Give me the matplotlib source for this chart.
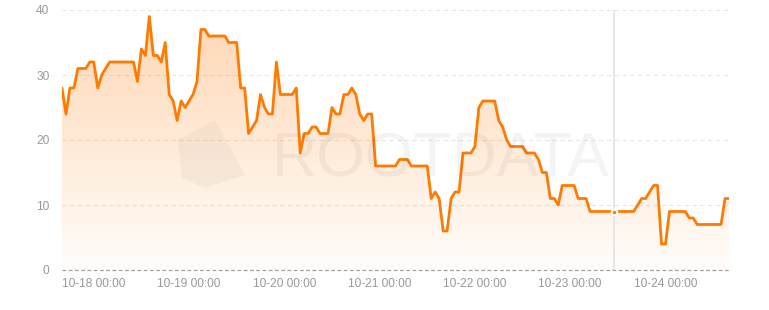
import numpy as np
import matplotlib
matplotlib.use("Agg")
import matplotlib.pyplot as plt
from matplotlib.colors import LinearSegmentedColormap
from matplotlib.patches import Polygon

# Hourly values starting at 10-18 00:00
values = [
    28, 24, 28, 28, 31, 31, 31, 32, 32, 28, 30, 31, 32, 32, 32, 32, 32, 32, 32, 29,
    34, 33, 39, 33, 33, 32, 35, 27, 26, 23, 26, 25, 26, 27, 29, 37, 37, 36, 36, 36,
    36, 36, 35, 35, 35, 28, 28, 21, 22, 23, 27, 25, 24, 24, 32, 27, 27, 27, 27, 28,
    18, 21, 21, 22, 22, 21, 21, 21, 25, 24, 24, 27, 27, 28, 27, 24, 23, 24, 24, 16,
    16, 16, 16, 16, 16, 17, 17, 17, 16, 16, 16, 16, 16, 11, 12, 11, 6, 6, 11, 12,
    12, 18, 18, 18, 19, 25, 26, 26, 26, 26, 23, 22, 20, 19, 19, 19, 19, 18, 18, 18,
    17, 15, 15, 11, 11, 10, 13, 13, 13, 13, 11, 11, 11, 9, 9, 9, 9, 9, 9, 9,
    9, 9, 9, 9, 9, 10, 11, 11, 12, 13, 13, 4, 4, 9, 9, 9, 9, 9, 8, 8,
    7, 7, 7, 7, 7, 7, 7, 11, 11,
]
tick_labels = ["10-18 00:00", "10-19 00:00", "10-20 00:00", "10-21 00:00",
               "10-22 00:00", "10-23 00:00", "10-24 00:00"]
y_ticks = [0, 10, 20, 30, 40]
hover_index = 139

hours = np.arange(len(values))
vals = np.array(values, dtype=float)

plt.rcParams['font.family'] = ['Liberation Sans', 'DejaVu Sans']

W, H = 769, 310
fig = plt.figure(figsize=(W / 100, H / 100), dpi=100)
x0, x1, ytop, ybot = 62, 729, 10, 270
ax = fig.add_axes([x0 / W, (H - ybot) / H, (x1 - x0) / W, (ybot - ytop) / H])
ax.set_xlim(0, len(values) - 1)
ax.set_ylim(0, 40)

# gradient fill
line_color = '#ff7a00'
cmap = LinearSegmentedColormap.from_list(
    'g', [(1, 0.478, 0, 0.02), (1, 0.478, 0, 0.30)])
grad = np.linspace(0, 1, 256).reshape(-1, 1)
im = ax.imshow(grad, aspect='auto', cmap=cmap, origin='lower',
               extent=[0, len(values) - 1, 0, max(values)], zorder=1)
poly = ax.fill_between(hours, vals, 0, color='none', lw=0)
im.set_clip_path(poly.get_paths()[0], transform=ax.transData)

# grid
for yv in y_ticks[1:]:
    ax.axhline(yv, color='#e6e6e6', lw=0.8, ls=(0, (4, 3)), zorder=0.5)
ax.axhline(0, color='#a0a0a0', lw=0.9, ls=(0, (3, 2)), zorder=3, clip_on=False)

# watermark (text + faint logo shape, in figure pixel coords)
fig.text(441 / W, 1 - 160 / H, 'ROOTDATA', ha='center', va='center',
         fontsize=45, color='#000000', alpha=0.045, zorder=1.5)
logo = Polygon([[(178) / W, 1 - 140 / H], [(215) / W, 1 - 120 / H],
                [(245) / W, 1 - 175 / H], [(205) / W, 1 - 188 / H],
                [(182) / W, 1 - 178 / H]],
               closed=True, transform=fig.transFigure, facecolor='#000000',
               alpha=0.03, lw=0, zorder=1.5)
fig.patches.append(logo)

# crosshair
ax.axvline(hover_index, color='#e3e3e3', lw=1.2, zorder=2)

ax.plot(hours, vals, color=line_color, lw=2.0, solid_joinstyle='round',
        solid_capstyle='round', zorder=4)
ax.plot([hover_index], [vals[hover_index]], 'o', ms=4, color=line_color,
        mec='white', mew=1.5, zorder=5)

for s in ax.spines.values():
    s.set_visible(False)
ax.set_yticks(y_ticks)
ax.set_yticklabels([str(v) for v in y_ticks])
ax.set_xticks([24 * i for i in range(len(tick_labels))])
ax.set_xticklabels(tick_labels, ha='left')
ax.tick_params(axis='both', length=0, labelsize=8.6, colors='#999999')
ax.tick_params(axis='y', pad=9)
ax.tick_params(axis='x', pad=6)

fig.savefig('out.png', dpi=100)
